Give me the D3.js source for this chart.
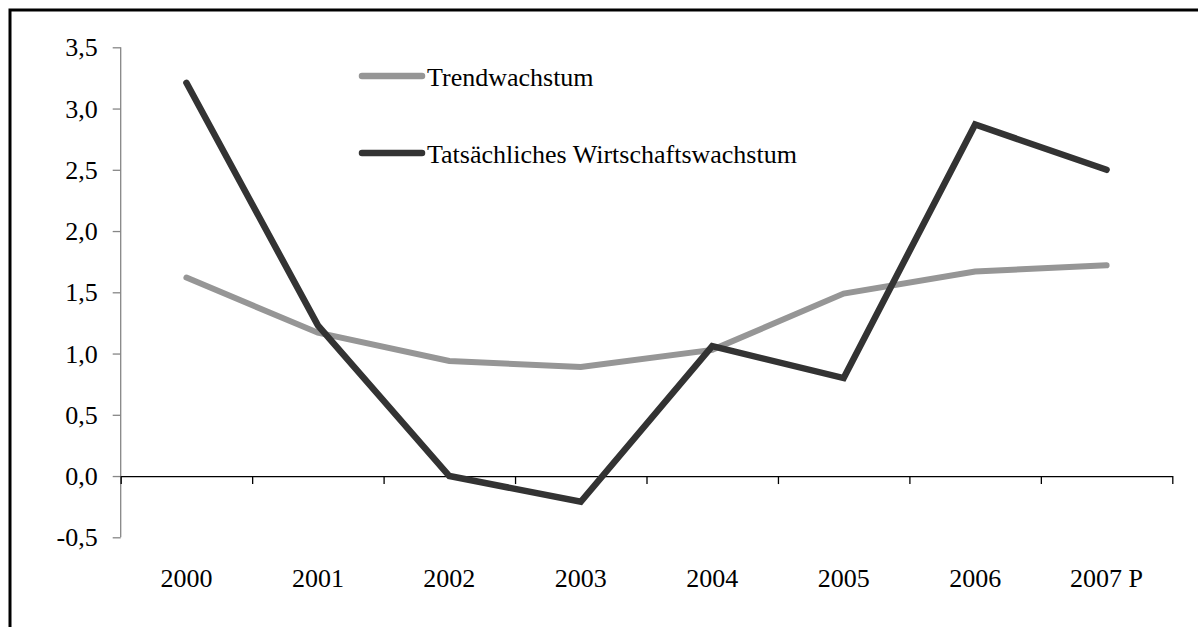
<!DOCTYPE html>
<html>
<head>
<meta charset="utf-8">
<script src="https://cdn.jsdelivr.net/npm/d3@7"></script>
<style>
  body { margin: 0; background: #fff; }
  svg text { font-family: "Liberation Serif", "Times New Roman", serif; fill: #000; }
</style>
</head>
<body>
<div id="chart"></div>
<script>
"use strict";

// == data ==
var years = ["2000", "2001", "2002", "2003", "2004", "2005", "2006", "2007 P"];
var trendwachstum = [1.62, 1.17, 0.94, 0.89, 1.03, 1.49, 1.67, 1.72];
var tatsaechlich = [3.21, 1.23, 0.0, -0.21, 1.06, 0.80, 2.87, 2.50];
var yTicks = [-0.5, 0, 0.5, 1.0, 1.5, 2.0, 2.5, 3.0, 3.5];
var seriesNames = ["Trendwachstum", "Tatsächliches Wirtschaftswachstum"];

var visualize = function() {
  var W = 1198, H = 627;
  var margin = { top: 47.3, right: 25.7, bottom: 89.7, left: 120.7 },
      width = W - margin.left - margin.right,
      height = H - margin.top - margin.bottom;

  var root = d3.select("#chart")
               .append("svg")
               .attr("width", W)
               .attr("height", H);

  // outer frame (right and bottom edges fall outside the picture)
  root.append("rect")
      .attr("x", 10).attr("y", 10)
      .attr("width", W + 20).attr("height", H + 20)
      .attr("fill", "none")
      .attr("stroke", "#000")
      .attr("stroke-width", 3);

  var svg = root.append("g")
                .attr("transform", "translate(" + margin.left + "," + margin.top + ")");

  var x = d3.scaleBand().domain(years).range([0, width]);
  var y = d3.scaleLinear().domain([-0.5, 3.5]).range([height, 0]);

  var fmt = function(d) { return d3.format(".1f")(d).replace("\u2212", "-").replace(".", ","); };

  // == y axis ==
  var yAxis = svg.append("g")
     .call(d3.axisLeft(y).tickValues(yTicks).tickFormat(fmt).tickSize(8).tickPadding(15));
  yAxis.select(".domain").attr("stroke", "#868686").attr("stroke-width", 1.3).attr("d", "M0," + y(3.5) + "V" + y(-0.5));
  yAxis.selectAll(".tick line").attr("stroke", "#868686").attr("stroke-width", 1.3);
  yAxis.selectAll("text").attr("font-size", 26).attr("dy", "0.33em");

  // == x axis on the zero line ==
  var edges = d3.scaleLinear().domain([0, years.length]).range([0, width]);
  var xTickAxis = svg.append("g")
     .attr("transform", "translate(0," + y(0) + ")")
     .call(d3.axisBottom(edges).ticks(years.length).tickFormat("").tickSize(8).tickSizeOuter(0));
  xTickAxis.select(".domain").attr("stroke", "#000").attr("stroke-width", 1.3);
  xTickAxis.selectAll(".tick line").attr("stroke", "#000").attr("stroke-width", 1.3);

  var xLabels = svg.append("g")
     .attr("transform", "translate(0," + height + ")")
     .call(d3.axisBottom(x).tickSize(0).tickPadding(31));
  xLabels.select(".domain").remove();
  xLabels.selectAll("text").attr("font-size", 26);

  // == lines ==
  var line = d3.line()
     .x(function (d, i) { return x(years[i]) + x.bandwidth() / 2; })
     .y(function (d) { return y(d); });

  svg.append("path")
     .datum(trendwachstum)
     .attr("d", line)
     .attr("fill", "none")
     .attr("stroke", "#969696")
     .attr("stroke-width", 6)
     .attr("stroke-linecap", "round")
     .attr("stroke-linejoin", "miter");

  svg.append("path")
     .datum(tatsaechlich)
     .attr("d", line)
     .attr("fill", "none")
     .attr("stroke", "#333333")
     .attr("stroke-width", 6.5)
     .attr("stroke-linecap", "round")
     .attr("stroke-linejoin", "miter");

  // == legend ==
  var legendColors = ["#969696", "#333333"];
  var legend = root.append("g")
     .attr("transform", "translate(362,76)");
  var items = legend.selectAll("g")
     .data(seriesNames)
     .enter()
     .append("g")
     .attr("transform", function (d, i) { return "translate(0," + (i * 77) + ")"; });
  items.append("line")
     .attr("x1", 0).attr("x2", 60)
     .attr("stroke", function (d, i) { return legendColors[i]; })
     .attr("stroke-width", 6.5)
     .attr("stroke-linecap", "round");
  items.append("text")
     .attr("x", 65)
     .attr("y", 10)
     .attr("font-size", 26)
     .text(function (d) { return d; });
};

visualize();
</script>
</body>
</html>
